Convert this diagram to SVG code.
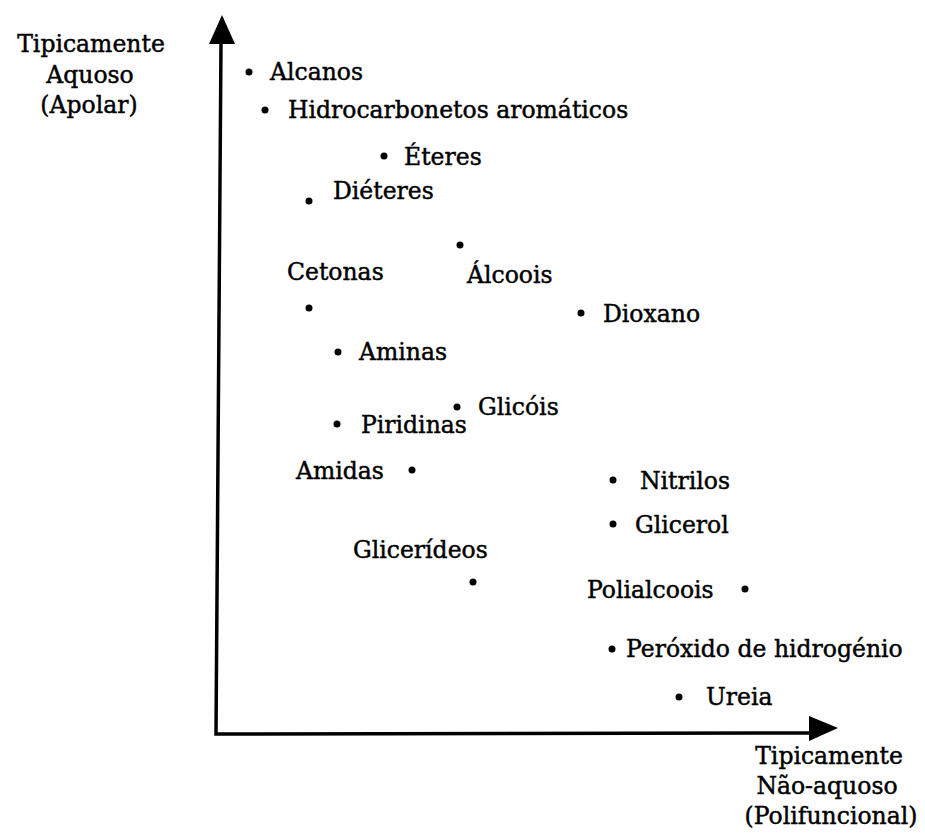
<svg xmlns="http://www.w3.org/2000/svg" width="925" height="838" viewBox="0 0 925 838">
<style>
text{font-family:"DejaVu Serif","Liberation Serif",serif;font-size:23.5px;fill:#000;stroke:#000;stroke-width:0.45}
.c{text-anchor:middle}
.d{fill:#000}
.ax{stroke:#000;stroke-width:3.5;fill:none}
</style>
<rect width="925" height="838" fill="#fff"/>
<g id="axes">
<path class="ax" d="M221,42 L216,734 L812,733"/>
<polygon points="222,15 209,44 235,44" fill="#000"/>
<polygon points="838,728 809,716 809,741" fill="#000"/>
</g>
<g id="label-y">
<text class="c" x="91" y="52">Tipicamente</text>
<text class="c" x="90" y="83">Aquoso</text>
<text class="c" x="89" y="113">(Apolar)</text>
</g>
<g id="label-x">
<text class="c" x="829" y="764">Tipicamente</text>
<text class="c" x="827" y="794">Não-aquoso</text>
<text class="c" x="831" y="824">(Polifuncional)</text>
</g>
<g id="alcanos"><circle class="d" cx="249" cy="72" r="3.5"/><text x="270" y="80">Alcanos</text></g>
<g id="hidrocarbonetos"><circle class="d" cx="265" cy="110" r="3.5"/><text x="288" y="118">Hidrocarbonetos aromáticos</text></g>
<g id="eteres"><circle class="d" cx="384" cy="156" r="3.5"/><text x="404" y="165">Éteres</text></g>
<g id="dieteres"><circle class="d" cx="309" cy="201" r="3.5"/><text x="333" y="199">Diéteres</text></g>
<g id="alcoois"><circle class="d" cx="460" cy="245" r="3.5"/><text x="467" y="283">Álcoois</text></g>
<g id="cetonas"><text x="287" y="280">Cetonas</text><circle class="d" cx="309" cy="308" r="3.5"/></g>
<g id="dioxano"><circle class="d" cx="581" cy="313" r="3.5"/><text x="603" y="322">Dioxano</text></g>
<g id="aminas"><circle class="d" cx="338" cy="352" r="3.5"/><text x="359" y="360">Aminas</text></g>
<g id="glicois"><circle class="d" cx="457" cy="407" r="3.5"/><text x="478" y="415">Glicóis</text></g>
<g id="piridinas"><circle class="d" cx="337" cy="424" r="3.5"/><text x="361" y="433">Piridinas</text></g>
<g id="amidas"><text x="296" y="479">Amidas</text><circle class="d" cx="412" cy="470" r="3.5"/></g>
<g id="nitrilos"><circle class="d" cx="613" cy="480" r="3.5"/><text x="640" y="489">Nitrilos</text></g>
<g id="glicerol"><circle class="d" cx="613" cy="524" r="3.5"/><text x="635" y="533">Glicerol</text></g>
<g id="gliceridoes"><text x="353" y="558">Glicerídeos</text><circle class="d" cx="473" cy="582" r="3.5"/></g>
<g id="polialcoois"><text x="587" y="598">Polialcoois</text><circle class="d" cx="745" cy="589" r="3.5"/></g>
<g id="peroxido"><circle class="d" cx="612" cy="649" r="3.5"/><text x="626" y="657">Peróxido de hidrogénio</text></g>
<g id="ureia"><circle class="d" cx="679" cy="697" r="3.5"/><text x="706" y="705">Ureia</text></g>
</svg>
